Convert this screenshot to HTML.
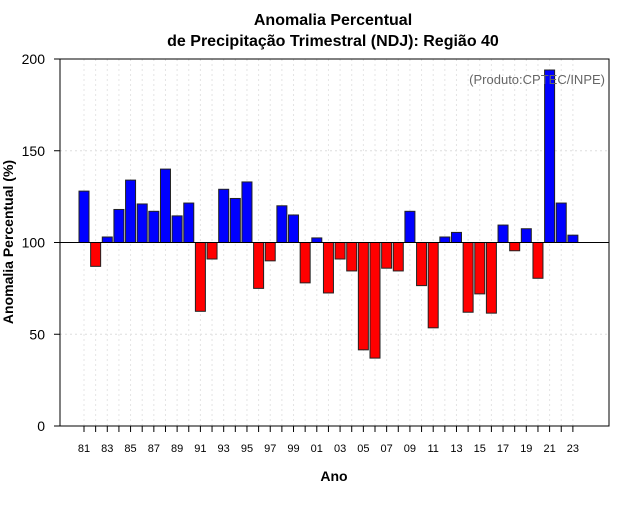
<!DOCTYPE html>
<html><head><meta charset="utf-8"><style>
body{margin:0;background:#fff}
text{font-family:"Liberation Sans",sans-serif}
</style></head><body>
<svg id="chart" width="640" height="500" xmlns="http://www.w3.org/2000/svg">
<text x="333" y="25" text-anchor="middle" font-size="16" font-weight="bold">Anomalia Percentual</text>
<text x="333" y="46" text-anchor="middle" font-size="16" font-weight="bold">de Precipitação Trimestral (NDJ): Região 40</text>
<g id="grid"></g>
<g id="bars"></g>
<g id="axes"></g>
<rect x="60" y="59" width="549" height="367" fill="none" stroke="#000" stroke-width="1"/>
<text x="605" y="84" text-anchor="end" font-size="13" fill="#666">(Produto:CPTEC/INPE)</text>
<text x="334" y="481" text-anchor="middle" font-size="14" font-weight="bold">Ano</text>
<text transform="translate(13,242) rotate(-90)" text-anchor="middle" font-size="14" font-weight="bold">Anomalia Percentual (%)</text>
</svg>
<script>
const years = [1981,1982,1983,1984,1985,1986,1987,1988,1989,1990,1991,1992,1993,1994,1995,1996,1997,1998,1999,2000,2001,2002,2003,2004,2005,2006,2007,2008,2009,2010,2011,2012,2013,2014,2015,2016,2017,2018,2019,2020,2021,2022,2023];
const values = [128,87,103,118,134,121,117,140,114.5,121.5,62.5,91,129,124,133,75,90,120,115,78,102.5,72.5,91,84.5,41.5,37,86,84.5,117,76.5,53.5,103,105.5,62,72,61.5,109.5,95.5,107.5,80.5,194,121.5,104];
const yTicks = [0,50,100,150,200];
const baseline = 100;
const NS="http://www.w3.org/2000/svg";
const x0=60,x1=609,yTop=59,yBot=426;
function xScale(yr){return 84+(yr-years[0])*11.64;}
function yScale(v){return yBot-(v/200)*(yBot-yTop);}
function mk(tag,attrs,parent){const e=document.createElementNS(NS,tag);for(const k in attrs)e.setAttribute(k,attrs[k]);parent.appendChild(e);return e;}
const grid=document.getElementById('grid'),bars=document.getElementById('bars'),axes=document.getElementById('axes');
yTicks.forEach(t=>{
  const l=mk('line',{x1:x0,x2:x1,y1:yScale(t),y2:yScale(t),stroke:'#ddd','stroke-dasharray':'2,3'},grid);
  
  
  const tk=mk('line',{x1:x0-6,x2:x0,y1:yScale(t),y2:yScale(t),stroke:'#000'},axes);
  
  
  const tx=mk('text',{x:x0-15,y:yScale(t)+5,'text-anchor':'end','font-size':'14'},axes);
  tx.textContent=t;
  
  
});
years.forEach((yr,i)=>{
  const x=xScale(yr);
  const g=mk('line',{x1:x,x2:x,y1:yTop,y2:yBot,stroke:'#e4e4e4','stroke-dasharray':'2,3'},grid);
  
  
  const v=values[i];
  const top=Math.min(yScale(v),yScale(baseline)),h=Math.abs(yScale(v)-yScale(baseline));
  const r=mk('rect',{x:x-5,y:top,width:10,height:h,fill:v>=baseline?'#0000ff':'#ff0000',stroke:'#222','stroke-width':'1'},bars);
  
  
  const tk=mk('line',{x1:x,x2:x,y1:yBot,y2:yBot+6,stroke:'#000'},axes);
  
  
  if(i%2===0){
    const tx=mk('text',{x:x,y:yBot+26,'text-anchor':'middle','font-size':'11'},axes);
    tx.textContent=String(yr).slice(2);
    
    
  }
});
const bl=mk('line',{x1:x0,x2:x1,y1:yScale(baseline),y2:yScale(baseline),stroke:'#000'},axes);


</script>
</body></html>
